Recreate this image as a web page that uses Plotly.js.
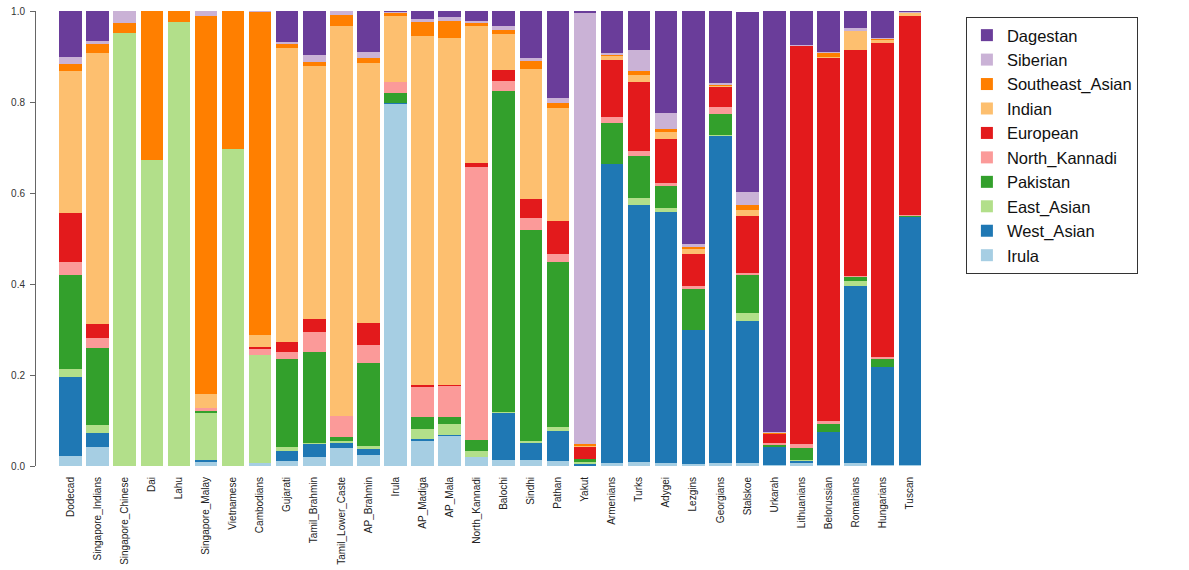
<!DOCTYPE html>
<html>
<head>
<meta charset="utf-8">
<script src="https://cdn.plot.ly/plotly-3.0.1.min.js"></script>
<style>html,body{margin:0;padding:0;background:#fff;}#chart{width:1189px;height:570px;}</style>
</head>
<body>
<div id="chart"></div>
<script>
const populations = ["Dodecad","Singapore_Indians","Singapore_Chinese","Dai","Lahu","Singapore_Malay","Vietnamese","Cambodians","Gujarati","Tamil_Brahmin","Tamil_Lower_Caste","AP_Brahmin","Irula","AP_Madiga","AP_Mala","North_Kannadi","Balochi","Sindhi","Pathan","Yakut","Armenians","Turks","Adygei","Lezgins","Georgians","Stalskoe","Urkarah","Lithuanians","Belorussian","Romanians","Hungarians","Tuscan"];

// components, bottom to top
const components = ["Irula","West_Asian","East_Asian","Pakistan","North_Kannadi","European","Indian","Southeast_Asian","Siberian","Dagestan"];
const colors = ["#A6CEE3","#1F78B4","#B2DF8A","#33A02C","#FB9A99","#E31A1C","#FDBF6F","#FF7F00","#CAB2D6","#6A3D9A"];

const Irula          = [0.021,0.0425,0.001,0,0,0.008,0,0.007,0.011,0.0205,0.039,0.024,0.795,0.055,0.067,0.0205,0.013,0.013,0.012,0.001,0.006,0.009,0.006,0.004,0.006,0.007,0.002,0.007,0.002,0.007,0.003,0.003];
const West_Asian     = [0.175,0.029,0,0,0,0.005,0,0,0.022,0.027,0.012,0.013,0.002,0.005,0.002,0,0.103,0.037,0.065,0.003,0.658,0.565,0.5515,0.296,0.719,0.312,0.0405,0.005,0.072,0.389,0.214,0.5435];
const East_Asian     = [0.017,0.018,0.951,0.6725,0.976,0.103,0.697,0.237,0.0095,0.002,0.005,0.007,0.001,0.021,0.0226,0.0125,0.003,0.0057,0.008,0.0055,0,0.016,0.0085,0,0.002,0.018,0,0.0013,0,0.0106,0,0];
const Pakistan       = [0.206,0.169,0,0,0,0.004,0,0,0.1925,0.201,0.007,0.183,0.0225,0.026,0.0154,0.024,0.706,0.463,0.3626,0.0052,0.089,0.092,0.049,0.089,0.0466,0.082,0.0035,0.027,0.0176,0.0094,0.0176,0.0035];
const North_Kannadi  = [0.029,0.022,0,0,0,0.007,0,0.013,0.015,0.044,0.047,0.039,0.0245,0.066,0.0696,0.601,0.022,0.0255,0.018,0,0.015,0.011,0.0077,0.007,0.0164,0.005,0.004,0.0076,0.0074,0.002,0.0056,0.001];
const European       = [0.107,0.031,0,0,0,0,0,0.004,0.023,0.028,0,0.049,0,0.005,0.0014,0.009,0.023,0.042,0.073,0.028,0.124,0.151,0.096,0.070,0.042,0.125,0.020,0.876,0.797,0.496,0.690,0.438];
const Indian         = [0.314,0.597,0,0,0,0.031,0,0.028,0.645,0.557,0.856,0.571,0.145,0.767,0.762,0.301,0.079,0.2865,0.2485,0.002,0.009,0.015,0.016,0.011,0.003,0.0126,0.001,0,0.004,0.042,0.005,0.0066];
const Southeast_Asian= [0.015,0.018,0.022,0.3275,0.024,0.832,0.303,0.708,0.009,0.009,0.025,0.011,0.005,0.030,0.039,0.005,0.009,0.0175,0.011,0.003,0.002,0.009,0.007,0.005,0.003,0.011,0.002,0,0.007,0,0.003,0];
const Siberian       = [0.014,0.008,0.026,0,0,0.010,0,0.003,0.004,0.014,0.009,0.014,0.003,0.007,0.008,0.005,0.008,0.006,0.0115,0.947,0.004,0.046,0.035,0.006,0.003,0.029,0.0013,0.0022,0.002,0.007,0.002,0.0014];
const Dagestan       = [0.102,0.065,0,0,0,0,0,0,0.069,0.097,0,0.089,0.002,0.018,0.013,0.022,0.0344,0.104,0.190,0.005,0.093,0.086,0.223,0.512,0.159,0.397,0.926,0.074,0.091,0.037,0.060,0.003];

const seriesValues = [Irula,West_Asian,East_Asian,Pakistan,North_Kannadi,European,Indian,Southeast_Asian,Siberian,Dagestan];

const yTickVals = [0,0.2,0.4,0.6,0.8,1.0];
const yTickText = ["0.0","0.2","0.4","0.6","0.8","1.0"];

const traces = components.map((name,i)=>({
  type:'bar',
  name:name,
  x:populations,
  y:seriesValues[i],
  marker:{color:colors[i], line:{width:0}},
  hoverinfo:'x+y+name'
}));

const layout = {
  width:1189, height:570,
  margin:{l:36, r:244, t:11, b:104},
  barmode:'stack',
  bargap:0.1667,
  paper_bgcolor:'#fff', plot_bgcolor:'#fff',
  font:{family:'Arial, "Liberation Sans", sans-serif', color:'#222'},
  xaxis:{
    type:'category',
    range:[-1.278, 32.30],
    showline:false, showgrid:false, zeroline:false,
    ticks:'', tickangle:-90,
    tickfont:{size:10, color:'#222'},
    ticklabelstandoff:8
  },
  yaxis:{
    range:[0,1],
    showline:true, linecolor:'#666', linewidth:1,
    showgrid:false, zeroline:false,
    ticks:'outside', ticklen:5, tickcolor:'#666',
    tickvals:yTickVals, ticktext:yTickText,
    tickfont:{size:10, color:'#333'},
    ticklabelstandoff:3
  },
  legend:{
    traceorder:'reversed',
    x:1.023, xanchor:'left',
    y:0.987, yanchor:'top',
    bordercolor:'#333', borderwidth:1,
    font:{size:16.5, color:'#111'},
    entrywidth:180, entrywidthmode:'pixels',
    bgcolor:'#fff'
  },
  showlegend:true
};

Plotly.newPlot('chart', traces, layout, {displayModeBar:false, staticPlot:true});
</script>
</body>
</html>
